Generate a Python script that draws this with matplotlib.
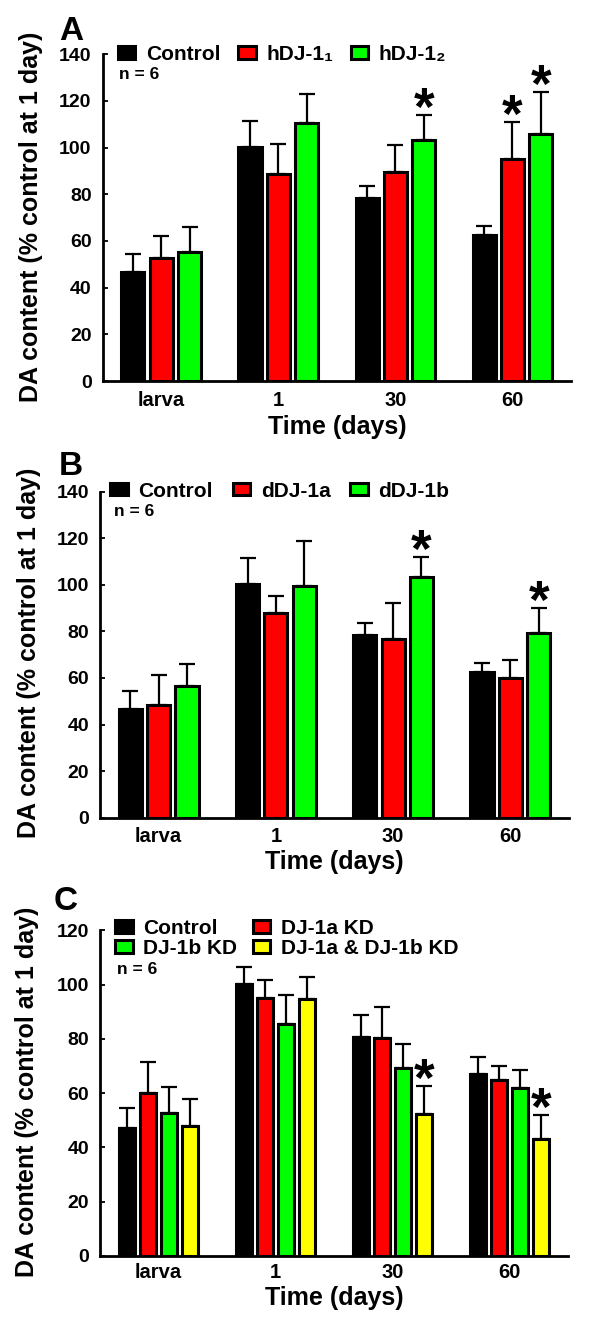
import numpy as np
import matplotlib.pyplot as plt

plt.rcParams['font.family'] = ['Liberation Sans', 'DejaVu Sans']
plt.rcParams['font.weight'] = 'bold'

# shared
time_points = ['larva', '1', '30', '60']

# panel A
a_names = ['Control', 'hDJ-1\u2081', 'hDJ-1\u2082']
a_control = [46.9, 100.3, 78.4, 62.6]
a_control_sem = [7.5, 11.1, 5.3, 3.8]
a_hdj1 = [52.6, 88.7, 89.4, 95.0]
a_hdj1_sem = [9.5, 12.9, 11.6, 16.1]
a_hdj2 = [55.1, 110.4, 103.1, 105.7]
a_hdj2_sem = [10.9, 12.6, 10.9, 18.2]
a_stars = [(2, 2), (1, 3), (2, 3)]  # (series, time point)

# panel B
b_names = ['Control', 'dDJ-1a', 'dDJ-1b']
b_control = [46.8, 100.3, 78.4, 62.7]
b_control_sem = [7.7, 11.3, 5.2, 3.9]
b_ddj1a = [48.2, 87.9, 76.9, 60.0]
b_ddj1a_sem = [13.2, 7.4, 15.3, 7.7]
b_ddj1b = [56.7, 99.5, 103.3, 79.3]
b_ddj1b_sem = [9.3, 19.5, 8.7, 10.7]
b_stars = [(2, 2), (2, 3)]

# panel C
c_names = ['Control', 'DJ-1a KD', 'DJ-1b KD', 'DJ-1a & DJ-1b KD']
c_control = [47.0, 100.2, 80.7, 67.1]
c_control_sem = [7.4, 6.2, 8.1, 6.3]
c_kd_a = [60.0, 95.0, 80.5, 64.8]
c_kd_a_sem = [11.3, 6.6, 11.4, 5.1]
c_kd_b = [52.6, 85.4, 69.2, 61.8]
c_kd_b_sem = [9.7, 10.7, 9.0, 6.7]
c_kd_ab = [47.9, 94.6, 52.3, 43.1]
c_kd_ab_sem = [10.1, 8.2, 10.3, 8.9]
c_stars = [(3, 2), (3, 3)]

colors = ['#000000', '#ff0000', '#00ff00', '#ffff00']


def draw_panel(ax, means, sems, names, stars, pitch, width, ymax, xpad):
    x = np.arange(len(time_points))
    n = len(means)
    bars = []
    for i in range(n):
        pos = x + (i - (n - 1) / 2) * pitch
        b = ax.bar(pos, means[i], width, color=colors[i], edgecolor='black',
                   linewidth=2.2, label=names[i], zorder=2)
        bars.append(b)
        ax.errorbar(pos, means[i], yerr=[np.zeros(len(x)), sems[i]], fmt='none',
                    ecolor='black', elinewidth=1.6, capsize=6, capthick=1.6, zorder=3)
    for s, t in stars:
        pos = x[t] + (s - (n - 1) / 2) * pitch
        top = means[s][t] + sems[s][t]
        ax.annotate('*', xy=(pos, top), xytext=(0, -7), textcoords='offset points',
                    ha='center', va='baseline', fontsize=38, fontweight='bold')
    ax.set_xlim(-0.5, 3.5)
    ax.set_ylim(0, ymax)
    ax.set_yticks(np.arange(0, ymax + 1, 20))
    ax.set_xticks(x)
    ax.set_xticklabels(time_points)
    for side in ['top', 'right']:
        ax.spines[side].set_visible(False)
    for side in ['left', 'bottom']:
        ax.spines[side].set_linewidth(2)
    ax.tick_params(axis='y', direction='in', length=3.5, width=1.3, pad=8, labelsize=14)
    ax.tick_params(axis='x', length=0, pad=xpad, labelsize=14.5)
    for lab in ax.get_xticklabels() + ax.get_yticklabels():
        lab.set_fontweight('bold')
    ax.set_ylabel('DA content (% control at 1 day)', fontsize=18, fontweight='bold')
    ax.set_xlabel('Time (days)', fontsize=18, fontweight='bold')
    return bars


fig = plt.figure(figsize=(5.89, 13.18), dpi=100)
W, H = 589.0, 1318.0


def add_axes(left, right, y0, ytop):
    return fig.add_axes([left / W, 1 - y0 / H, (right - left) / W, (y0 - ytop) / H])


ax_a = add_axes(102.7, 571, 381, 54.3)
ax_b = add_axes(100, 569, 817.7, 491.7)
ax_c = add_axes(100, 568, 1256, 930.3)

bars_a = draw_panel(ax_a, [a_control, a_hdj1, a_hdj2],
                    [a_control_sem, a_hdj1_sem, a_hdj2_sem],
                    a_names, a_stars, 0.242, 0.197, 140, 7)
bars_b = draw_panel(ax_b, [b_control, b_ddj1a, b_ddj1b],
                    [b_control_sem, b_ddj1a_sem, b_ddj1b_sem],
                    b_names, b_stars, 0.242, 0.197, 140, 6.5)
bars_c = draw_panel(ax_c, [c_control, c_kd_a, c_kd_b, c_kd_ab],
                    [c_control_sem, c_kd_a_sem, c_kd_b_sem, c_kd_ab_sem],
                    c_names, c_stars, 0.182, 0.137, 120, 5)

leg_kw = dict(frameon=False, fontsize=15, handlelength=0.85, handleheight=0.55,
              handletextpad=0.5, borderpad=0, borderaxespad=0, loc='center left')
ax_a.legend(ncol=3, columnspacing=0.85, bbox_to_anchor=(0.032, 0.999), **leg_kw)
ax_b.legend(ncol=3, columnspacing=0.95, bbox_to_anchor=(0.022, 1.002), **leg_kw)
ax_c.legend([bars_c[0], bars_c[2], bars_c[1], bars_c[3]],
            [c_names[0], c_names[2], c_names[1], c_names[3]],
            ncol=2, columnspacing=0.75, labelspacing=0.05,
            bbox_to_anchor=(0.032, 0.976), **leg_kw)

for ax, nx, ny in [(ax_a, 0.035, 0.937), (ax_b, 0.03, 0.938), (ax_c, 0.036, 0.881)]:
    ax.text(nx, ny, 'n = 6', transform=ax.transAxes, ha='left', va='center',
            fontsize=12.5, fontweight='bold')

ax_a.yaxis.set_label_coords(-0.1275, 0.502)
ax_b.yaxis.set_label_coords(-0.125, 0.505)
ax_c.yaxis.set_label_coords(-0.1295, 0.5035)
ax_a.xaxis.set_label_coords(0.5, -0.104)
ax_b.xaxis.set_label_coords(0.5, -0.099)
ax_c.xaxis.set_label_coords(0.5, -0.092)

for label, px, py in [('A', 71.3, 40), ('B', 70.5, 475), ('C', 65.8, 909.7)]:
    fig.text(px / W, 1 - py / H, label, ha='center', va='baseline',
             fontsize=24, fontweight='bold')

fig.savefig('out.png', dpi=100)
